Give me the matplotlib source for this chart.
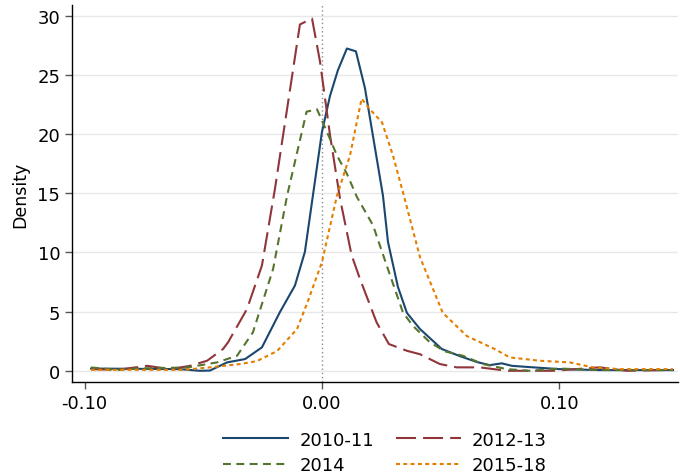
import matplotlib
matplotlib.use("Agg")
import matplotlib.pyplot as plt

# 2010-11
x_1011 = [-0.0973, -0.0598, -0.0514, -0.0472, -0.0400, -0.0324, -0.0253, -0.0177, -0.0114,
          -0.0072, 0.0000, 0.0034, 0.0067, 0.0105, 0.0143, 0.0181, 0.0257, 0.0278, 0.0320,
          0.0358, 0.0413, 0.0505, 0.0581, 0.0653, 0.0707, 0.0758, 0.0800, 0.0876, 0.1002,
          0.1171, 0.1479]
y_1011 = [0.19, 0.14, 0.00, 0.02, 0.71, 0.99, 1.98, 4.97, 7.2, 10.05, 20.2, 23.25, 25.4,
          27.24, 27.0, 23.9, 14.8, 10.9, 7.09, 4.89, 3.53, 1.84, 1.24, 0.74, 0.48, 0.63,
          0.42, 0.31, 0.14, 0.06, 0.06]

# 2012-13
x_1213 = [-0.0973, -0.0863, -0.0737, -0.0640, -0.0556, -0.0484, -0.0417, -0.0396, -0.0316,
          -0.0253, -0.0198, -0.0093, -0.0042, -0.0008, 0.0034, 0.0076, 0.0125, 0.0160,
          0.0230, 0.0282, 0.0358, 0.0413, 0.0497, 0.0568, 0.0665, 0.0779, 0.0973, 0.1171,
          0.1284, 0.1479]
y_1213 = [0.14, 0.08, 0.42, 0.14, 0.42, 0.85, 1.84, 2.4, 5.22, 8.9, 15.4, 29.27, 29.78,
          26.1, 19.9, 14.55, 9.76, 7.77, 4.1, 2.26, 1.69, 1.4, 0.57, 0.29, 0.29, 0.0, 0.0,
          0.29, 0.0, 0.08]

# 2014
x_2014 = [-0.0973, -0.0863, -0.0779, -0.0568, -0.0442, -0.0358, -0.0291, -0.0206, -0.0147,
          -0.0065, -0.0021, 0.0021, 0.0063, 0.0105, 0.0147, 0.0215, 0.0274, 0.0341, 0.0383,
          0.0455, 0.0518, 0.0594, 0.0678, 0.0779, 0.0876, 0.1002, 0.1171, 0.1479]
y_2014 = [0.28, 0.08, 0.2, 0.28, 0.71, 1.27, 3.25, 8.6, 14.8, 21.9, 22.1, 20.2, 18.2, 16.65,
          14.7, 12.3, 8.83, 4.94, 3.8, 2.4, 1.64, 1.27, 0.57, 0.14, 0.0, 0.19, 0.06, 0.06]

# 2015-18
x_1518 = [-0.0973, -0.0585, -0.0472, -0.0345, -0.0274, -0.0189, -0.0105, -0.0059, 0.0000,
          0.0063, 0.0118, 0.0167, 0.0202, 0.0253, 0.0299, 0.0341, 0.0413, 0.0509, 0.0610,
          0.0728, 0.0791, 0.0918, 0.1044, 0.1141, 0.1255, 0.1479]
y_1518 = [0.08, 0.08, 0.29, 0.57, 0.82, 1.67, 3.53, 5.9, 9.2, 14.8, 18.2, 23.0, 22.1, 21.0,
          18.2, 15.1, 9.6, 4.9, 2.94, 1.84, 1.13, 0.85, 0.71, 0.29, 0.14, 0.14]

labels = ["2010-11", "2012-13", "2014", "2015-18"]
x_ticks = [-0.10, 0.00, 0.10]
x_ticklabels = ["-0.10", "0.00", "0.10"]
y_ticks = [0, 5, 10, 15, 20, 25, 30]

plt.rcParams['font.family'] = ['DejaVu Sans']

fig = plt.figure(figsize=(6.8, 4.77), dpi=100)
ax = fig.add_axes([0.106, 0.197, 0.891, 0.790])

lw = 1.5
l1, = ax.plot(x_1011, y_1011, color="#1a476f", lw=lw, label=labels[0])
l2, = ax.plot(x_1213, y_1213, color="#90353b", lw=lw, label=labels[1], dashes=(9.6, 3.4))
l3, = ax.plot(x_2014, y_2014, color="#55752f", lw=lw, label=labels[2], dashes=(3.8, 2.6))
l4, = ax.plot(x_1518, y_1518, color="#e37e00", lw=lw, label=labels[3], dashes=(1.9, 1.6))

ax.axvline(0, color="#8a8a8a", lw=1.0, linestyle=(0, (1, 2)), zorder=0.5)

ax.set_xlim(-0.1053, 0.150)
ax.set_ylim(-0.95, 30.9)
ax.set_xticks(x_ticks)
ax.set_xticklabels(x_ticklabels)
ax.set_yticks(y_ticks)
ax.tick_params(axis='both', labelsize=13, color="#555555", length=5, width=1)
ax.set_ylabel("Density", fontsize=12.5, labelpad=6)

ax.grid(axis='y', color="#e8e8e8", lw=1.0)
ax.set_axisbelow(True)
for s in ["top", "right"]:
    ax.spines[s].set_visible(False)
for s in ["left", "bottom"]:
    ax.spines[s].set_color("black")
    ax.spines[s].set_linewidth(1.0)

# column-wise fill: order so rows read 2010-11, 2012-13 / 2014, 2015-18
fig.legend(handles=[l1, l3, l2, l4], labels=[labels[0], labels[2], labels[1], labels[3]],
           ncol=2, loc="upper center",
           bbox_to_anchor=(0.566, 0.095), frameon=False, fontsize=13,
           handlelength=3.6, handletextpad=0.6, columnspacing=1.2, labelspacing=0.42,
           borderaxespad=0, borderpad=0)

fig.savefig("out.png", dpi=100)
